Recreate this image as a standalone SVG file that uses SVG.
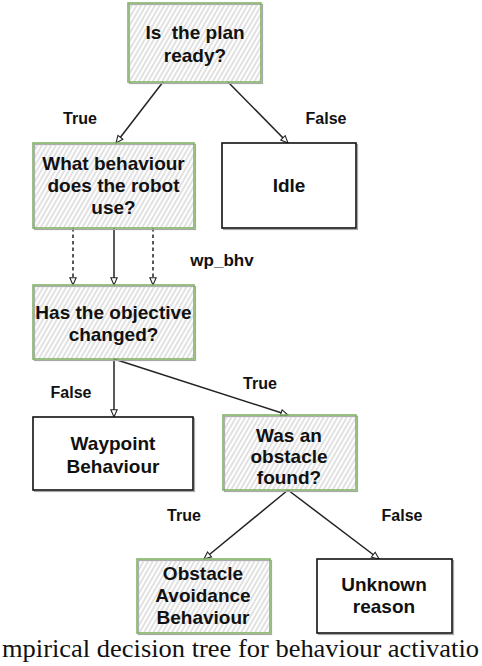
<svg xmlns="http://www.w3.org/2000/svg" width="482" height="666" viewBox="0 0 482 666">
<defs>
<pattern id="hatch" patternUnits="userSpaceOnUse" width="4" height="10" patternTransform="rotate(30)">
<line x1="1" y1="0" x2="1" y2="10" stroke="#bdbdbd" stroke-width="0.9"/>
</pattern>
<marker id="arr" viewBox="0 0 10 10" refX="9" refY="5" markerWidth="9" markerHeight="9" orient="auto" markerUnits="userSpaceOnUse">
<path d="M1,1.5 L9,5 L1,8.5 Z" fill="#fff" stroke="#222" stroke-width="1.2"/>
</marker>
</defs>
<style>
.shadow{fill:none;stroke:#a8a8a8;stroke-width:1.2}
.hbox{fill:url(#hatch);stroke:#82b366;stroke-width:1.6}
.wbox{fill:#fff;stroke:#111;stroke-width:1.6}
.t{font-family:"Liberation Sans",Arial,sans-serif;font-weight:bold;font-size:19px;fill:#111;text-anchor:middle}
.l{font-family:"Liberation Sans",Arial,sans-serif;font-weight:bold;font-size:16px;fill:#111;text-anchor:middle}
.c{stroke:#222;stroke-width:1.5;fill:none;marker-end:url(#arr)}
.d{stroke-dasharray:3.5,3}
.cap{font-family:"Liberation Serif","Times New Roman",serif;font-size:26px;fill:#111}
</style>
<rect width="482" height="666" fill="#fff"/>

<g id="connectors">
<path class="c" d="M163,82 L116,143"/>
<path class="c" d="M228,82 L288,143"/>
<path class="c d" d="M73,228 L73,285"/>
<path class="c" d="M114,228 L114,285"/>
<path class="c d" d="M153,228 L153,285"/>
<path class="c" d="M114,359 L114,417"/>
<path class="c" d="M114,359 L288,415"/>
<path class="c" d="M288,490 L204,559"/>
<path class="c" d="M288,490 L379,559"/>
<text class="l" x="80" y="124">True</text>
<text class="l" x="326" y="124">False</text>
<text class="l" x="222" y="266" style="font-size:17px">wp_bhv</text>
<text class="l" x="71" y="398">False</text>
<text class="l" x="260" y="389">True</text>
<text class="l" x="184" y="521">True</text>
<text class="l" x="402" y="521">False</text>
</g>

<g id="n_plan_ready">
<rect class="shadow" x="129.5" y="4.5" width="133" height="79"/>
<rect class="hbox" x="128" y="3" width="133" height="79"/>
<text class="t" x="195" y="39" xml:space="preserve">Is  the plan</text>
<text class="t" x="195" y="62">ready?</text>
</g>

<g id="n_behaviour">
<rect class="shadow" x="34.5" y="144.5" width="161" height="85"/>
<rect class="hbox" x="33" y="143" width="161" height="85"/>
<text class="t" x="113.5" y="170">What behaviour</text>
<text class="t" x="113.5" y="192">does the robot</text>
<text class="t" x="113.5" y="214">use?</text>
</g>

<g id="n_idle">
<rect class="shadow" x="223.5" y="144.5" width="134" height="85"/>
<rect class="wbox" x="222" y="143" width="134" height="85"/>
<text class="t" x="289" y="192">Idle</text>
</g>

<g id="n_objective">
<rect class="shadow" x="34.5" y="286.5" width="161" height="74"/>
<rect class="hbox" x="33" y="285" width="161" height="74"/>
<text class="t" x="113.5" y="319">Has the objective</text>
<text class="t" x="113.5" y="341">changed?</text>
</g>

<g id="n_waypoint">
<rect class="shadow" x="34.5" y="418.5" width="160" height="73"/>
<rect class="wbox" x="33" y="417" width="160" height="73"/>
<text class="t" x="113" y="450">Waypoint</text>
<text class="t" x="113" y="473">Behaviour</text>
</g>

<g id="n_obstacle_found">
<rect class="shadow" x="224.5" y="416.5" width="133" height="75"/>
<rect class="hbox" x="223" y="415" width="133" height="75"/>
<text class="t" x="289" y="442">Was an</text>
<text class="t" x="289" y="463">obstacle</text>
<text class="t" x="289" y="484">found?</text>
</g>

<g id="n_avoidance">
<rect class="shadow" x="138.5" y="560.5" width="133" height="74"/>
<rect class="hbox" x="137" y="559" width="133" height="74"/>
<text class="t" x="203" y="580">Obstacle</text>
<text class="t" x="203" y="602">Avoidance</text>
<text class="t" x="203" y="624">Behaviour</text>
</g>

<g id="n_unknown">
<rect class="shadow" x="318.5" y="560.5" width="135" height="74"/>
<rect class="wbox" x="317" y="559" width="135" height="74"/>
<text class="t" x="384" y="591">Unknown</text>
<text class="t" x="384" y="613">reason</text>
</g>

<text class="cap" x="2" y="657" textLength="477" lengthAdjust="spacingAndGlyphs">mpirical decision tree for behaviour activatio</text>
</svg>
